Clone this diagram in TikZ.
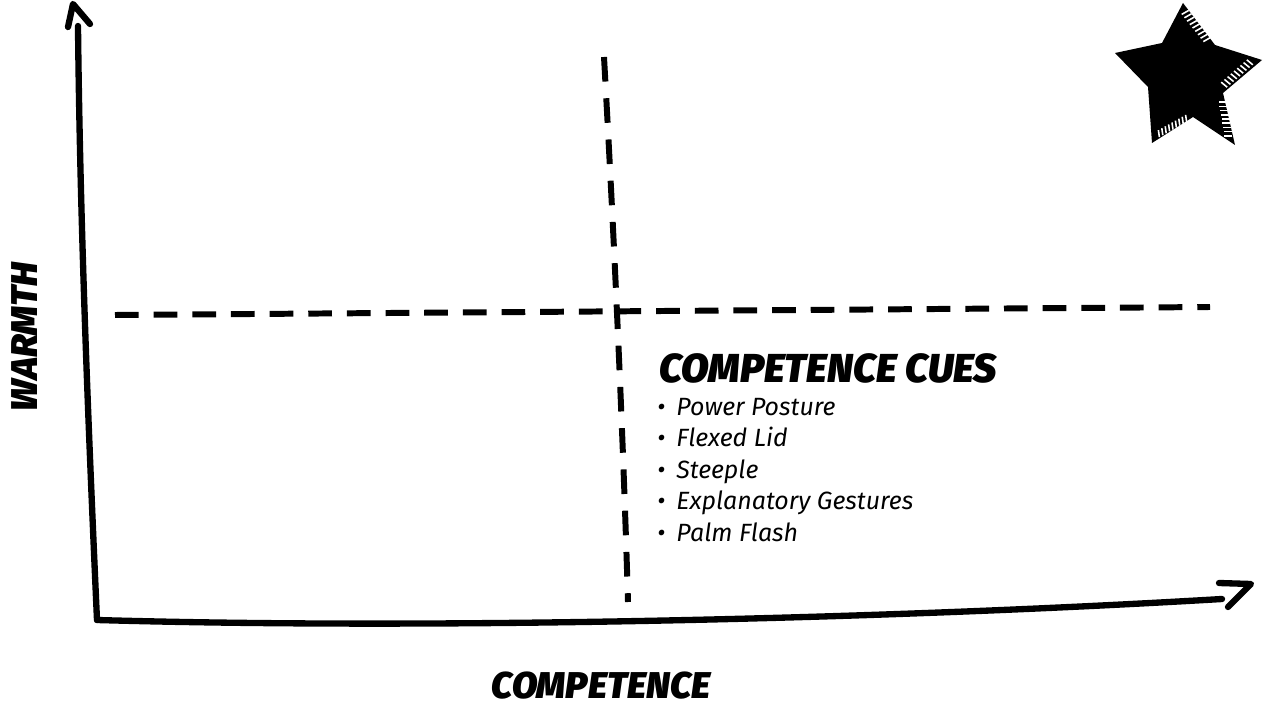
\documentclass[tikz,border=0pt]{standalone}
\usepackage{fontspec}
\usetikzlibrary{calc}
\setmainfont{Fira Sans}
\newfontfamily\headfont{Fira Sans}[UprightFont=* Black Italic]
\newfontfamily\itemfont{Fira Sans}[UprightFont=* Italic]
\begin{document}
\begin{tikzpicture}[x=0.02cm,y=-0.02cm,
  axisline/.style={line width=3.6pt,line cap=round,line join=round},
  hdash/.style={line width=3.4pt,dash pattern=on 13.5pt off 8.5pt},
  vdash/.style={line width=3.4pt,dash pattern=on 14pt off 9.5pt},
  hatch/.style={white,line width=0.9pt},
  headlabel/.style={font=\headfont\fontsize{23}{26}\selectfont,inner sep=0pt},
  axislabel/.style={font=\headfont\fontsize{21.2}{24}\selectfont,inner sep=0pt},
  itemlabel/.style={font=\itemfont\fontsize{14.2}{17.9}\selectfont,inner sep=0pt,align=left}]
\useasboundingbox (0,0) rectangle (1265,706);
% axes
\coordinate (o) at (97,620);
\coordinate (ytop) at (78,26);
\coordinate (ytip) at (73,4);
\coordinate (yl) at (68,27);
\coordinate (yr) at (90,24);
\coordinate (xend) at (1222,599);
\coordinate (xtip) at (1251,584);
\coordinate (xu) at (1219,583);
\coordinate (xd) at (1228,607);
\draw[axisline] (o) .. controls (88,420) and (80,220) .. (ytop);
\draw[axisline] (yl) -- (ytip) -- (yr);
\draw[axisline] (o) .. controls (450,630) and (900,618) .. (xend);
\draw[axisline] (xu) -- (xtip) -- (xd);
% dashed quadrant lines
\coordinate (hl) at (115,315);
\coordinate (hr) at (1210,307);
\coordinate (vt) at (604,57);
\coordinate (vb) at (628,602);
\draw[hdash] (hl) -- (hr);
\draw[vdash] (vt) .. controls (612,200) and (622,400) .. (vb);
% labels
\node[headlabel,anchor=base west] (cues) at (659,382) {COMPETENCE CUES};
\node[itemlabel,anchor=north west] (items) at (657,398) {%
\textbullet\hspace{0.45em}Power Posture\\
\textbullet\hspace{0.45em}Flexed Lid\\
\textbullet\hspace{0.45em}Steeple\\
\textbullet\hspace{0.45em}Explanatory Gestures\\
\textbullet\hspace{0.45em}Palm Flash};
\node[axislabel,anchor=base] (xlab) at (601,698) {COMPETENCE};
\node[axislabel,anchor=base,rotate=90] (ylab) at (37,337) {WARMTH};
% star
\fill (1183,3) -- (1215,45) -- (1262,60) -- (1223,93) -- (1235,145) -- (1193,117)
      -- (1152,143) -- (1148,87) -- (1115,53) -- (1162,43) -- cycle;
\foreach \t in {0.1,0.2,...,0.9}{
  \draw[hatch] ($(1186,7)!\t!(1213,41)$) -- +(-7,4);
  \draw[hatch] ($(1256,62)!\t!(1224,90)$) -- +(-6,-5);
  \draw[hatch] ($(1226,98)!\t!(1233,140)$) -- +(-8,0);
  \draw[hatch] ($(1190,120)!\t!(1156,139)$) -- +(-1,-7);
}
\end{tikzpicture}
\end{document}
